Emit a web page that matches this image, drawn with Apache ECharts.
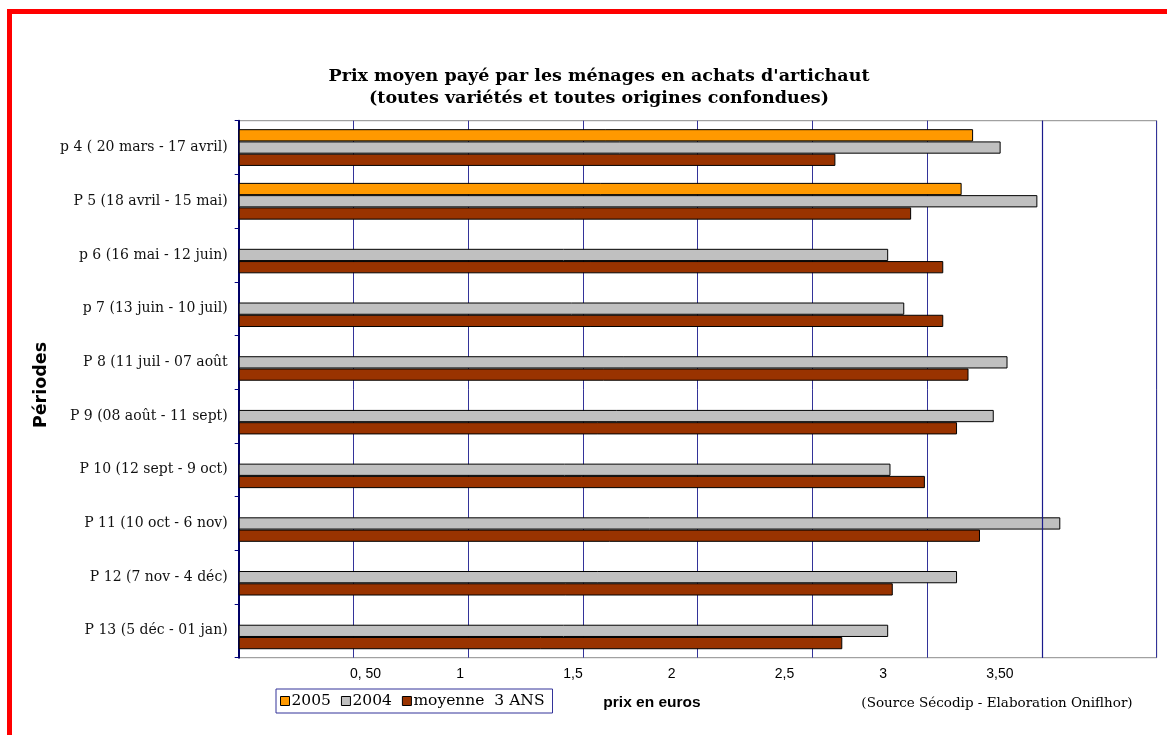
<!DOCTYPE html>
<html>
<head>
<meta charset="utf-8">
<script src="https://cdn.jsdelivr.net/npm/echarts@6/dist/echarts.min.js"></script>
<style>
  html, body { margin: 0; padding: 0; background: #ffffff; }
  #chart { width: 1167px; height: 735px; }
</style>
</head>
<body>
<div id="chart"></div>
<script>
// Periods (top to bottom)
const periods = [
  'p 4 ( 20 mars - 17 avril)',
  'P 5 (18 avril - 15 mai)',
  'p 6 (16 mai - 12 juin)',
  'p 7 (13 juin - 10 juil)',
  'P 8 (11 juil - 07 août',
  'P 9 (08 août - 11 sept)',
  'P 10 (12 sept - 9 oct)',
  'P 11 (10 oct - 6 nov)',
  'P 12 (7 nov - 4 déc)',
  'P 13 (5 déc - 01 jan)'
];

// Average price paid (euros)
const prix2005 = [3.20, 3.15, null, null, null, null, null, null, null, null];
const prix2004 = [3.32, 3.48, 2.83, 2.90, 3.35, 3.29, 2.84, 3.58, 3.13, 2.83];
const moyenne3ans = [2.60, 2.93, 3.07, 3.07, 3.18, 3.13, 2.99, 3.23, 2.85, 2.63];

// Value-axis tick labels, keyed by tick value
const tickValues = [0.5, 1, 1.5, 2, 2.5, 3, 3.5];
const tickLabels = ['0, 50', '1', '1,5', '2', '2,5', '3', '3,50'];

// Horizontal nudge of each tick label (px, + = right), as laid out in the print version
const tickNudge = [12, -8, -10, -26, -28, -44, -42];

const serif = '"DejaVu Serif", "Liberation Serif", serif';
const sans = '"Liberation Sans", Arial, sans-serif';

const rich = {};
tickNudge.forEach(function (d, i) {
  rich['t' + i] = {
    fontFamily: sans,
    fontSize: 14,
    color: '#000',
    padding: d >= 0 ? [0, 0, 0, 2 * d] : [0, -2 * d, 0, 0]
  };
});

const chart = echarts.init(document.getElementById('chart'), null, { renderer: 'canvas' });

function barSeries(name, data, color) {
  return {
    name: name,
    type: 'bar',
    data: data,
    barWidth: 12.25,
    barGap: '0%',
    itemStyle: { color: color, borderColor: '#000000', borderWidth: 1 },
    emphasis: { disabled: true },
    animation: false
  };
}

chart.setOption({
  animation: false,
  backgroundColor: '#ffffff',
  title: {
    text: "Prix moyen payé par les ménages en achats d'artichaut\n(toutes variétés et toutes origines confondues)",
    left: 594,
    textAlign: 'center',
    top: 60,
    textStyle: {
      fontFamily: serif,
      fontWeight: 'bold',
      fontSize: 17.5,
      lineHeight: 22,
      color: '#000'
    }
  },
  legend: {
    data: [
      { name: '2005', itemStyle: { color: '#FF9900', borderColor: '#000', borderWidth: 1 } },
      { name: '2004', itemStyle: { color: '#C0C0C0', borderColor: '#000', borderWidth: 1 } },
      { name: 'moyenne  3 ANS', itemStyle: { color: '#993300', borderColor: '#000', borderWidth: 1 } }
    ],
    left: 276,
    top: 689,
    orient: 'horizontal',
    icon: 'rect',
    itemWidth: 9,
    itemHeight: 9,
    itemGap: 10,
    padding: [4, 8, 4, 4],
    borderColor: '#333399',
    borderWidth: 1,
    backgroundColor: '#ffffff',
    selectedMode: false,
    textStyle: { fontFamily: serif, fontSize: 15.5, color: '#000', padding: [0, 0, 0, -3] }
  },
  grid: {
    left: 238.7,
    top: 120.7,
    right: 10.3,
    bottom: 77.3,
    show: true,
    borderColor: '#8c8c8c',
    borderWidth: 1,
    backgroundColor: '#ffffff'
  },
  xAxis: {
    type: 'value',
    min: 0,
    max: 4,
    interval: 0.5,
    axisLine: { show: false },
    axisTick: { show: false },
    splitLine: { show: true, lineStyle: { color: '#333399', width: 1 } },
    axisLabel: {
      margin: 9,
      formatter: function (v) {
        const i = tickValues.indexOf(Math.round(v * 100) / 100);
        return i < 0 ? '' : '{t' + i + '|' + tickLabels[i] + '}';
      },
      rich: rich
    }
  },
  yAxis: {
    type: 'category',
    data: periods,
    inverse: true,
    axisLine: { show: true, lineStyle: { color: '#000066', width: 2 } },
    axisTick: { show: true, inside: false, length: 4, lineStyle: { color: '#000080', width: 1 } },
    axisLabel: {
      margin: 11,
      fontFamily: serif,
      fontSize: 14,
      color: '#111'
    },
    splitLine: { show: false }
  },
  series: [
    barSeries('2005', prix2005, '#FF9900'),
    barSeries('2004', prix2004, '#C0C0C0'),
    Object.assign(barSeries('moyenne  3 ANS', moyenne3ans, '#993300'), {
      // the 3.50 gridline is drawn a shade heavier
      markLine: {
        silent: true,
        symbol: 'none',
        label: { show: false },
        lineStyle: { color: '#1a1a8c', width: 1.2, type: 'solid' },
        data: [{ xAxis: 3.5 }]
      }
    })
  ],
  graphic: [
    {
      type: 'rect',
      silent: true,
      shape: { x: 9.5, y: 11.5, width: 1400, height: 1000 },
      style: { fill: null, stroke: '#FF0000', lineWidth: 5 },
      z: 100
    },
    {
      type: 'text',
      x: 41,
      y: 385,
      rotation: Math.PI / 2,
      style: {
        text: 'Périodes',
        fontFamily: '"DejaVu Sans", Verdana, sans-serif',
        fontWeight: 'bold',
        fontSize: 17.5,
        fill: '#000',
        textAlign: 'center',
        textVerticalAlign: 'middle'
      }
    },
    {
      type: 'text',
      x: 652,
      y: 703,
      style: {
        text: 'prix en euros',
        fontFamily: sans,
        fontWeight: 'bold',
        fontSize: 15.5,
        fill: '#000',
        textAlign: 'center',
        textVerticalAlign: 'middle'
      }
    },
    {
      type: 'text',
      x: 997,
      y: 703,
      style: {
        text: '(Source Sécodip - Elaboration Oniflhor)',
        fontFamily: serif,
        fontSize: 13.5,
        fill: '#000',
        textAlign: 'center',
        textVerticalAlign: 'middle'
      }
    }
  ]
});
</script>
</body>
</html>
